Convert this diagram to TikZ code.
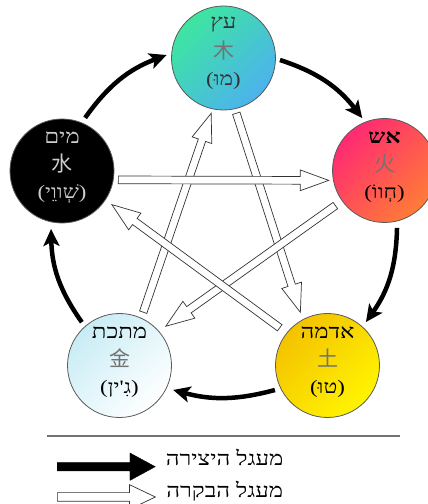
\documentclass[tikz,border=0pt]{standalone}
\usepackage{fontspec}
\newfontfamily\hefont[Script=Hebrew, FakeStretch=1.2]{Liberation Serif}
\newfontfamily\cjk{Noto Sans CJK SC}
\TeXXeTstate=1
\usetikzlibrary{arrows.meta,calc,shapes.arrows}

\definecolor{woodA}{HTML}{3DE6A0}
\definecolor{woodB}{HTML}{B4F2E2}
\definecolor{woodC}{HTML}{4CB2EE}
\definecolor{fireA}{HTML}{FF2A72}
\definecolor{fireB}{HTML}{FF4A5C}
\definecolor{fireC}{HTML}{FF7C36}
\definecolor{earthA}{HTML}{F4C200}
\definecolor{earthB}{HTML}{FFE600}
\definecolor{earthC}{HTML}{FFF400}
\definecolor{metalA}{HTML}{C8ECF5}
\definecolor{metalB}{HTML}{EEF9FB}
\definecolor{waterB}{HTML}{C0C0C0}

\begin{document}
\begin{tikzpicture}[x=1pt, y=1pt,
    elem/.style={circle, draw=black!65, line width=0.8pt, minimum size=104pt, inner sep=0pt},
    hname/.style={font=\hefont\fontsize{20}{20}\selectfont, inner sep=0pt},
    hpy/.style={font=\hefont\fontsize{19}{19}\selectfont, inner sep=0pt},
    hanzi/.style={font=\cjk\fontsize{21}{21}\selectfont, text=black!55, inner sep=0pt},
    gen/.style={line width=4.5pt, -{Stealth[length=17pt, width=16pt, inset=4pt]}},
    ctrl/.style={single arrow, draw=black!80, fill=white, line width=0.7pt, inner sep=3.5pt,
      single arrow head extend=6.5pt, single arrow tip angle=40, anchor=tail}]
    \useasboundingbox (0,0) rectangle (428,504);

    % Elements
    \node[elem, top color=woodA, middle color=woodB, bottom color=woodC, shading angle=45] (wood) at (223.5,446) {};
    \node[elem, top color=fireA, middle color=fireB, bottom color=fireC, shading angle=45] (fire) at (384.5,333.5) {};
    \node[elem, top color=earthA, middle color=earthB, bottom color=earthC, shading angle=45] (earth) at (327.5,138.5) {};
    \node[elem, top color=metalA, middle color=metalB, bottom color=white, shading angle=45] (metal) at (119.5,138.5) {};
    \node[elem, top color=black, middle color=waterB, bottom color=black, shading angle=45] (water) at (62,333) {};

    % Labels
    \node[hname, text=black!80] (woodname) at ([yshift=33pt]wood.center) {\beginR עץ\endR};
    \node[hanzi] (woodzh) at ([yshift=7pt]wood.center) {木};
    \node[hpy, text=black!80] (woodpy) at ([yshift=-23pt]wood.center) {\beginR(מוּ)\endR};
    \node[hname, font=\hefont\bfseries\fontsize{20}{20}\selectfont] (firename) at ([yshift=33pt]fire.center) {\beginR אש\endR};
    \node[hanzi] (firezh) at ([yshift=7pt]fire.center) {火};
    \node[hpy] (firepy) at ([yshift=-23pt]fire.center) {\beginR(חְווֹ)\endR};
    \node[hname] (earthname) at ([yshift=33pt]earth.center) {\beginR אדמה\endR};
    \node[hanzi] (earthzh) at ([yshift=7pt]earth.center) {土};
    \node[hpy] (earthpy) at ([yshift=-23pt]earth.center) {\beginR(טוּ)\endR};
    \node[hname] (metalname) at ([yshift=33pt]metal.center) {\beginR מתכת\endR};
    \node[hanzi] (metalzh) at ([yshift=7pt]metal.center) {金};
    \node[hpy] (metalpy) at ([yshift=-23pt]metal.center) {\beginR(גִ'ין)\endR};
    \node[hname, text=black!20] (watername) at ([yshift=33pt]water.center) {\beginR מים\endR};
    \node[hanzi, text=black!20] (waterzh) at ([yshift=7pt]water.center) {水};
    \node[hpy, text=black!20] (waterpy) at ([yshift=-23pt]water.center) {\beginR(שְׁווֵי)\endR};

    % Generating cycle
    \draw[gen] ($(water)+(66.5:58pt)$) to[bend left=17] ($(wood)+(177:57pt)$);
    \draw[gen] ($(wood)+(-2:56.5pt)$) to[bend left=17] ($(fire)+(113:57pt)$);
    \draw[gen] ($(fire)+(-77.7:58.8pt)$) to[bend left=17] ($(earth)+(48.5:58pt)$);
    \draw[gen] ($(earth)+(205:58pt)$) to[bend left=15] ($(metal)+(-24.5:59pt)$);
    \draw[gen] ($(metal)+(131:57.4pt)$) to[bend left=17] ($(water)+(-100.7:59pt)$);

    % Controlling cycle
    \path let \p1=($(metal)+(66:58pt)$), \p2=($(wood)+(-102.6:57pt)$),
      \n1={atan2(\y2-\y1,\x2-\x1)}, \n2={veclen(\x2-\x1,\y2-\y1)} in
      node[ctrl, rotate=\n1, minimum height=\n2] (m2w) at (\p1) {};
    \path let \p1=($(wood)+(-77:56.4pt)$), \p2=($(earth)+(117:60pt)$),
      \n1={atan2(\y2-\y1,\x2-\x1)}, \n2={veclen(\x2-\x1,\y2-\y1)} in
      node[ctrl, rotate=\n1, minimum height=\n2] (w2e) at (\p1) {};
    \path let \p1=($(fire)+(215.5:60pt)$), \p2=($(metal)+(40.3:61pt)$),
      \n1={atan2(\y2-\y1,\x2-\x1)}, \n2={veclen(\x2-\x1,\y2-\y1)} in
      node[ctrl, rotate=\n1, minimum height=\n2] (f2m) at (\p1) {};
    \path let \p1=($(earth)+(141.7:60.5pt)$), \p2=($(water)+(-34:60.5pt)$),
      \n1={atan2(\y2-\y1,\x2-\x1)}, \n2={veclen(\x2-\x1,\y2-\y1)} in
      node[ctrl, rotate=\n1, minimum height=\n2] (e2w) at (\p1) {};
    \path let \p1=($(water)+(-9:56.7pt)$), \p2=($(fire)+(190:57pt)$),
      \n1={atan2(\y2-\y1,\x2-\x1)}, \n2={veclen(\x2-\x1,\y2-\y1)} in
      node[ctrl, rotate=\n1, minimum height=\n2] (w2f) at (\p1) {};

    % Legend
    \draw[black!55, line width=1.3pt] (47,68) -- (400,68);
    \node[single arrow, draw=black, fill=black, inner sep=4pt, minimum height=98pt,
      single arrow head extend=9.5pt, single arrow tip angle=57, anchor=tail] (genkey) at (57,37.3) {};
    \node[hname, anchor=west] (genlabel) at ([xshift=10pt, yshift=9pt]genkey.tip) {\beginR מעגל היצירה\endR};
    \node[ctrl, inner sep=4pt, minimum height=98pt, single arrow head extend=8pt,
      single arrow tip angle=51] (ctrlkey) at (57,7) {};
    \node[hname, anchor=west] (ctrllabel) at ([xshift=10pt, yshift=6pt]ctrlkey.tip) {\beginR מעגל הבקרה\endR};
\end{tikzpicture}
\end{document}
